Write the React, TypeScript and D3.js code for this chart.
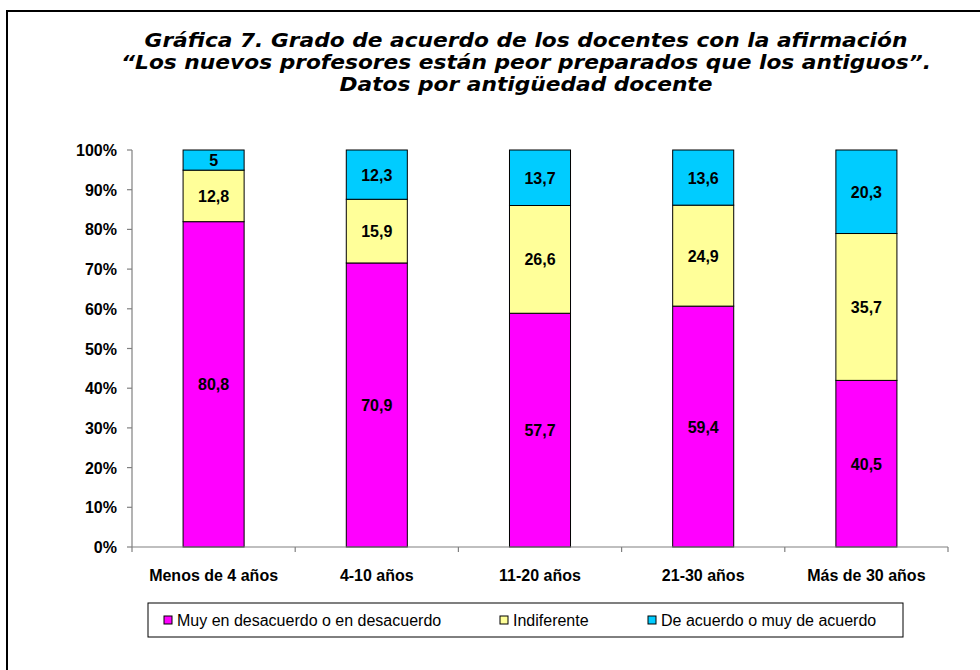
import React from "react";
import * as d3 from "d3";

const categories = ["Menos de 4 años", "4-10 años", "11-20 años", "21-30 años", "Más de 30 años"];
const seriesNames = ["Muy en desacuerdo o en desacuerdo", "Indiferente", "De acuerdo o muy de acuerdo"];
const desacuerdo = [80.8, 70.9, 57.7, 59.4, 40.5];
const indiferente = [12.8, 15.9, 26.6, 24.9, 35.7];
const acuerdo = [5, 12.3, 13.7, 13.6, 20.3];
const colors = ["#FF00FF", "#FFFF99", "#00CCFF"];
const yTicks = [0, 0.1, 0.2, 0.3, 0.4, 0.5, 0.6, 0.7, 0.8, 0.9, 1];
const titleLines = [
  "Gráfica 7. Grado de acuerdo de los docentes con la afirmación",
  "“Los nuevos profesores están peor preparados que los antiguos”.",
  "Datos por antigüedad docente",
];

export default function App() {
  const W = 980, H = 670;
  const left = 132, right = 948, top = 150, bottom = 547;
  const x = d3.scaleBand<string>().domain(categories).range([left, right]).paddingInner(0.626).paddingOuter(0.313);
  const y = d3.scaleLinear().domain([0, 1]).range([bottom, top]);
  const step = (right - left) / categories.length;

  const rows = categories.map((c, i) => ({ cat: c, s0: desacuerdo[i], s1: indiferente[i], s2: acuerdo[i] }));
  const stack = d3.stack<any>().keys(["s0", "s1", "s2"]).offset(d3.stackOffsetExpand);
  const stacked = stack(rows);
  const raw = [desacuerdo, indiferente, acuerdo];
  const fmt = (v: number) => String(v).replace(".", ",");
  const sans = "'Liberation Sans', Arial, sans-serif";

  const legendItems = [
    { x: 164, tx: 177 },
    { x: 500, tx: 513 },
    { x: 648, tx: 661 },
  ];

  return (
    <svg width={W} height={H} style={{ position: "absolute", left: 0, top: 0, background: "#fff" }}>
      <rect x={7} y={11} width={1000} height={700} fill="#fff" stroke="#000" strokeWidth={2} />
      <g fontFamily="'DejaVu Sans', Verdana, sans-serif" fontWeight="bold" fontStyle="italic" fontSize={18.9} textAnchor="middle">
        {titleLines.map((t, i) => (
          <text key={i} transform={`translate(526,${47 + i * 22}) scale(1.15,1)`} x={0} y={0}>{t}</text>
        ))}
      </g>
      {/* bars */}
      {stacked.map((layer, si) => (
        <g key={si}>
          {layer.map((d, ci) => {
            const bx = x(categories[ci])!;
            const bw = x.bandwidth();
            const y0 = y(d[0]);
            const y1 = y(d[1]);
            return (
              <g key={ci}>
                <rect x={bx} y={y1} width={bw} height={y0 - y1} fill={colors[si]} stroke="#000" strokeWidth={1} />
                <text x={bx + bw / 2} y={(y0 + y1) / 2 + 6} textAnchor="middle" fontFamily={sans} fontWeight="bold" fontSize={16}>
                  {fmt(raw[si][ci])}
                </text>
              </g>
            );
          })}
        </g>
      ))}
      {/* y axis */}
      <line x1={left} x2={left} y1={top} y2={bottom} stroke="#808080" strokeWidth={1.2} />
      {yTicks.map((t) => (
        <g key={t}>
          <line x1={left - 5} x2={left} y1={y(t)} y2={y(t)} stroke="#808080" strokeWidth={1.2} />
          <text x={117} y={y(t) + 6} textAnchor="end" fontFamily={sans} fontWeight="bold" fontSize={16}>
            {Math.round(t * 100)}%
          </text>
        </g>
      ))}
      {/* x axis */}
      <line x1={left} x2={right} y1={bottom} y2={bottom} stroke="#808080" strokeWidth={1.2} />
      {d3.range(categories.length + 1).map((i) => (
        <line key={i} x1={left + i * step} x2={left + i * step} y1={bottom} y2={bottom + 5} stroke="#808080" strokeWidth={1.2} />
      ))}
      {categories.map((c) => (
        <text key={c} x={x(c)! + x.bandwidth() / 2} y={581} textAnchor="middle" fontFamily={sans} fontWeight="bold" fontSize={16}>
          {c}
        </text>
      ))}
      {/* legend */}
      <rect x={148} y={603} width={755} height={34} fill="#fff" stroke="#000" strokeWidth={1} />
      {seriesNames.map((n, i) => (
        <g key={n}>
          <rect x={legendItems[i].x} y={616} width={8} height={8} fill={colors[i]} stroke="#000" strokeWidth={1} />
          <text x={legendItems[i].tx} y={626} fontFamily={sans} fontSize={16}>
            {n}
          </text>
        </g>
      ))}
    </svg>
  );
}
